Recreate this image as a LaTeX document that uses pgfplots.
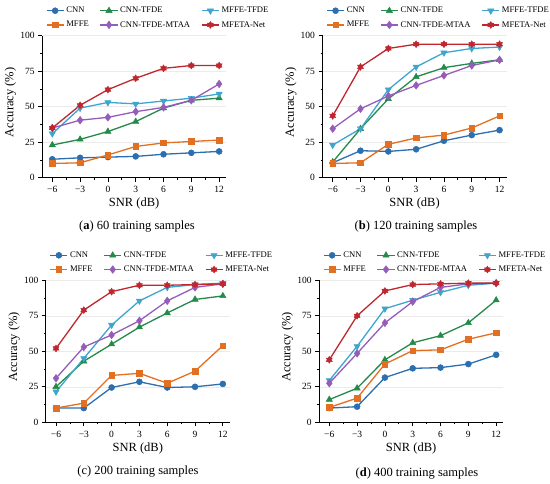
\documentclass[border=0pt]{standalone}
\usepackage{fontspec}
\setmainfont{Liberation Serif}
\usepackage{pgfplots}
\usepackage{pgfplotstable}
\pgfplotsset{compat=1.18}
\usetikzlibrary{plotmarks}

\definecolor{cCNN}{RGB}{44,111,176}
\definecolor{cMFFE}{RGB}{226,112,34}
\definecolor{cCT}{RGB}{36,138,74}
\definecolor{cMT}{RGB}{62,166,206}
\definecolor{cMTAA}{RGB}{150,92,186}
\definecolor{cNET}{RGB}{192,38,46}

\pgfdeclareplotmark{hexstar}{%
  \pgfpathmoveto{\pgfqpointpolar{90}{\pgfplotmarksize}}%
  \pgfpathlineto{\pgfqpointpolar{120}{0.6\pgfplotmarksize}}%
  \pgfpathlineto{\pgfqpointpolar{150}{\pgfplotmarksize}}%
  \pgfpathlineto{\pgfqpointpolar{180}{0.6\pgfplotmarksize}}%
  \pgfpathlineto{\pgfqpointpolar{210}{\pgfplotmarksize}}%
  \pgfpathlineto{\pgfqpointpolar{240}{0.6\pgfplotmarksize}}%
  \pgfpathlineto{\pgfqpointpolar{270}{\pgfplotmarksize}}%
  \pgfpathlineto{\pgfqpointpolar{300}{0.6\pgfplotmarksize}}%
  \pgfpathlineto{\pgfqpointpolar{330}{\pgfplotmarksize}}%
  \pgfpathlineto{\pgfqpointpolar{0}{0.6\pgfplotmarksize}}%
  \pgfpathlineto{\pgfqpointpolar{30}{\pgfplotmarksize}}%
  \pgfpathlineto{\pgfqpointpolar{60}{0.6\pgfplotmarksize}}%
  \pgfpathclose
  \pgfusepathqfillstroke
}

\pgfplotstableread{
snr cnn ct mt mffe mtaa net
-6 13 23 31 10 35 35
-3 14 27 49 10.5 40.5 51
0 14.5 32.5 53 16 42.5 62
3 15 39.5 52 22 46.5 70
6 16.5 49 54 24.5 49.5 77
9 17.5 54.5 56 25.5 54.5 79
12 18.5 56 59 26.5 66 79
}\tabA
\pgfplotstableread{
snr cnn ct mt mffe mtaa net
-6 10.5 11 23 10 34.5 43.5
-3 19 34.5 34.5 10.5 48.5 78
0 18.5 55.5 62 23.5 57.5 91
3 20 71 78 28 65 94
6 26 77.5 88 30 72 94
9 30 80.5 91 35 79 94
12 33.5 83 92 43.5 83 94
}\tabB
\pgfplotstableread{
snr cnn ct mt mffe mtaa net
-6 10 25 21.5 10 31 52
-3 10 43 45 13.5 53 79
0 24.5 55 68.5 33 61.5 92
3 28.5 67 85.5 34.5 71.5 96.5
6 24.5 77 95 27.5 85.5 96.5
9 25 86.5 97 36 95 97
12 27 89 98 54 97.5 97.5
}\tabC
\pgfplotstableread{
snr cnn ct mt mffe mtaa net
-6 10 16 29.5 10.5 27.5 44
-3 11 24 53.5 17 48.5 75
0 31.5 44 80 41 70 92.5
3 38 56 86 50.5 85 97
6 38.5 61 91.5 51 95 97.5
9 41 70 96.5 58.5 97.5 98
12 47.5 86 98 63 98 98
}\tabD

\pgfplotsset{
  myax/.style={
    scale only axis, width=184pt, height=142pt,
    xmin=-7.1, xmax=12.75, ymin=0, ymax=100,
    axis x line*=bottom, axis y line*=left,
    axis line style={black, line width=0.8pt},
    tick align=outside, tick style={black, line width=0.7pt},
    major tick length=4pt, minor tick length=2pt,
    xtick={-6,-3,0,3,6,9,12},
    xticklabels={−6,−3,0,3,6,9,12},
    ytick={0,25,50,75,100},
    minor x tick num=1, minor y tick num=1,
    ymajorgrids, major grid style={black!8, line width=0.5pt},
    /pgf/number format/assume math mode=true,
    ticklabel style={font=\fontsize{9.5}{11}\selectfont},
    xticklabel style={yshift=-1pt},
    xlabel={SNR (dB)}, ylabel={Accuracy (\%)},
    label style={font=\fontsize{12.5}{14}\selectfont},
    xlabel style={at={(axis description cs:0.5,-0.185)}, anchor=center},
    ylabel style={at={(axis description cs:-0.172,0.53)}, anchor=center},
    clip=false,
    legend columns=3,
    legend cell align=left,
    legend style={draw=none, fill=none, at={(axis description cs:0.02,1.035)}, anchor=south west,
      font=\fontsize{8.6}{10}\selectfont, column sep=0pt, row sep=3pt, inner sep=0pt,
      /tikz/every even column/.append style={column sep=9pt}},
    every axis plot/.append style={line width=1.3pt},
  },
  sCNN/.style={cCNN, mark=*, mark size=3pt, mark options={fill=cCNN, draw=cCNN, line width=0.5pt}},
  sCT/.style={cCT, mark=triangle*, mark size=3.6pt, mark options={fill=cCT, draw=cCT, line width=0.5pt}},
  sMT/.style={cMT, mark=triangle*, mark size=3.6pt, mark options={fill=cMT, draw=cMT, rotate=180, line width=0.5pt}},
  sMFFE/.style={cMFFE, mark=square*, mark size=2.8pt, mark options={fill=cMFFE, draw=cMFFE, line width=0.5pt}},
  sMTAA/.style={cMTAA, mark=diamond*, mark size=3.8pt, mark options={fill=cMTAA, draw=cMTAA, line width=0.5pt}},
  sNET/.style={cNET, mark=hexstar, mark size=3.4pt, mark options={fill=cNET, draw=cNET, line width=0.5pt}},
}

\newcommand{\allplots}[1]{%
  \addplot[sCNN] table[x=snr, y=cnn] {#1};
  \addplot[sCT] table[x=snr, y=ct] {#1};
  \addplot[sMT] table[x=snr, y=mt] {#1};
  \addplot[sMFFE] table[x=snr, y=mffe] {#1};
  \addplot[sMTAA] table[x=snr, y=mtaa] {#1};
  \addplot[sNET] table[x=snr, y=net] {#1};
  \legend{CNN, CNN-TFDE, MFFE-TFDE, MFFE, CNN-TFDE-MTAA, MFETA-Net}
}

\begin{document}
\begin{tikzpicture}
\path[use as bounding box] (0pt,0pt) rectangle (550pt,484pt);

\begin{axis}[myax, at={(42.1pt,306.3pt)}, anchor=south west]
\allplots{\tabA}
\end{axis}

\begin{axis}[myax, at={(322.5pt,306.3pt)}, anchor=south west]
\allplots{\tabB}
\end{axis}

\begin{axis}[myax, at={(45.8pt,61.7pt)}, anchor=south west]
\allplots{\tabC}
\end{axis}

\begin{axis}[myax, at={(319.1pt,61.7pt)}, anchor=south west]
\allplots{\tabD}
\end{axis}

\node[font=\fontsize{12.5}{14}\selectfont] at (137pt,257pt) {(\textbf{a}) 60 training samples};
\node[font=\fontsize{12.5}{14}\selectfont] at (416pt,257pt) {(\textbf{b}) 120 training samples};
\node[font=\fontsize{12.5}{14}\selectfont] at (138pt,12pt) {(c) 200 training samples};
\node[font=\fontsize{12.5}{14}\selectfont] at (417pt,10.5pt) {(\textbf{d}) 400 training samples};
\end{tikzpicture}
\end{document}
